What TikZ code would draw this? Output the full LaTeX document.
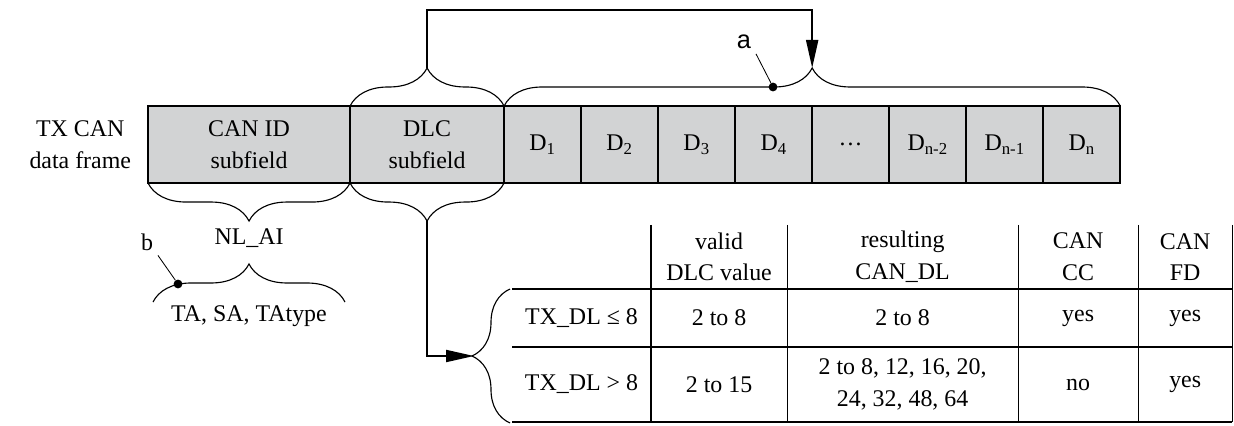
\documentclass[tikz,border=0pt]{standalone}
\usepackage{tikz}
\usepackage{fontspec}
\setmainfont{Liberation Serif}
\newfontfamily\labelfont{Liberation Sans}
\usetikzlibrary{positioning,calc,arrows.meta,decorations.pathreplacing}
\definecolor{framegray}{RGB}{210,211,212}

\begin{document}
\begin{tikzpicture}[
    x=0.025cm, y=-0.025cm,
    font=\fontsize{17}{22.5}\selectfont,
    field/.style={rectangle, draw, line width=1.4pt, fill=framegray, minimum height=1.925cm, inner sep=0pt, outer sep=0pt, align=center},
    datafield/.style={field, minimum width=1.925cm},
    cell/.style={rectangle, inner sep=0pt, outer sep=0pt, align=center},
    colA/.style={cell, minimum width=3.475cm},
    colB/.style={cell, minimum width=3.4cm},
    colC/.style={cell, minimum width=5.775cm},
    colD/.style={cell, minimum width=3cm},
    colE/.style={cell, minimum width=2.35cm},
    headrow/.style={minimum height=1.6cm},
    rowone/.style={minimum height=1.45cm},
    rowtwo/.style={minimum height=1.875cm},
    brace/.style={decorate, decoration={brace, amplitude=0.95cm}, line width=0.8pt},
    arrow/.style={-{Triangle[length=0.7cm,width=0.3cm]}, line width=1.4pt},
    rule/.style={line width=1.2pt},
    thinrule/.style={line width=0.8pt},
    leader/.style={line width=0.6pt},
    dot/.style={circle, fill, inner sep=0pt, minimum size=0.22cm}
]
\useasboundingbox (0,0) rectangle (1234,426);

% data frame
\node[field, minimum width=5.05cm, anchor=north west] (canid) at (148,106) {CAN ID\\subfield};
\node[field, minimum width=3.85cm, right=0pt of canid] (dlc) {DLC\\subfield};
\node[datafield, right=0pt of dlc] (d1) {D\textsubscript{1}};
\node[datafield, right=0pt of d1] (d2) {D\textsubscript{2}};
\node[datafield, right=0pt of d2] (d3) {D\textsubscript{3}};
\node[datafield, right=0pt of d3] (d4) {D\textsubscript{4}};
\node[datafield, right=0pt of d4] (ddots) {\dots};
\node[datafield, right=0pt of ddots] (dn2) {D\textsubscript{n-2}};
\node[datafield, right=0pt of dn2] (dn1) {D\textsubscript{n-1}};
\node[datafield, right=0pt of dn1] (dn) {D\textsubscript{n}};
\node[left=0.3cm of canid, align=center] (txlabel) {TX CAN\\data frame};

% braces above the frame
\draw[brace] (dlc.north west) -- (dlc.north east);
\draw[brace] (d1.north west) -- (dn.north east);
\coordinate (dlctop) at ($(dlc.north)+(0,-38)$);
\coordinate (datatop) at ($(d1.north west)!0.5!(dn.north east)+(0,-38)$);
\draw[arrow] (dlctop) -- ++(0,-58) -| (datatop);

\node[font=\labelfont\fontsize{18}{20}\selectfont] (alabel) at (744,42) {a};
\node[dot] (adot) at (773,87) {};
\draw[leader] (alabel.south east) -- (adot);

% braces below the frame
\draw[brace] (canid.south east) -- (canid.south west);
\draw[brace] (dlc.south east) -- (dlc.south west);
\coordinate (nltip) at ($(canid.south)+(0,38)$);
\coordinate (dlcbot) at ($(dlc.south)+(0,38)$);
\node[below=2pt of nltip] (nlai) {NL\_AI};

\coordinate (tal) at (153,302);
\coordinate (tar) at (345,302);
\draw[brace] (tal) -- (tar);
\node (ta) at (249,316) {TA, SA, TAtype};

\node (blabel) at (147,242) {b};
\node[dot] (bdot) at (178,284) {};
\draw[leader] (blabel.south east) -- (bdot);

% DLC table
\node[colA, rowone, anchor=north west] (r1c0) at (512,289) {TX\_DL ≤ 8};
\node[colB, rowone, right=0pt of r1c0] (r1c1) {2 to 8};
\node[colC, rowone, right=0pt of r1c1] (r1c2) {2 to 8};
\node[colD, rowone, right=0pt of r1c2] (r1c3) {yes};
\node[colE, rowone, right=0pt of r1c3] (r1c4) {yes};

\node[colA, rowtwo, below=0pt of r1c0] (r2c0) {TX\_DL > 8};
\node[colB, rowtwo, below=0pt of r1c1] (r2c1) {2 to 15};
\node[colC, rowtwo, below=0pt of r1c2] (r2c2) {2 to 8, 12, 16, 20,\\24, 32, 48, 64};
\node[colD, rowtwo, below=0pt of r1c3] (r2c3) {no};
\node[colE, rowtwo, below=0pt of r1c4] (r2c4) {yes};

\node[colB, headrow, above=0pt of r1c1] (h1) {valid\\DLC value};
\node[colC, headrow, above=0pt of r1c2] (h2) {resulting\\CAN\_DL};
\node[colD, headrow, above=0pt of r1c3] (h3) {CAN\\CC};
\node[colE, headrow, above=0pt of r1c4] (h4) {CAN\\FD};

\draw[rule] (r1c0.north west) -- (r1c4.north east);
\draw[thinrule] (r2c0.north west) -- (r2c4.north east);
\draw[rule] (r2c0.south west) -- (r2c4.south east);
\draw[thinrule] (h1.north west) -- (r2c1.south west);
\draw[thinrule] (h2.north west) -- (r2c2.south west);
\draw[thinrule] (h3.north west) -- (r2c3.south west);
\draw[thinrule] (h4.north west) -- (r2c4.south west);
\draw[thinrule] (h4.north east) -- (r2c4.south east);

\draw[brace] (510,423) -- (510,289);
\coordinate (tabtip) at (474,356);
\draw[arrow] (dlcbot) |- (tabtip);

\end{tikzpicture}
\end{document}
